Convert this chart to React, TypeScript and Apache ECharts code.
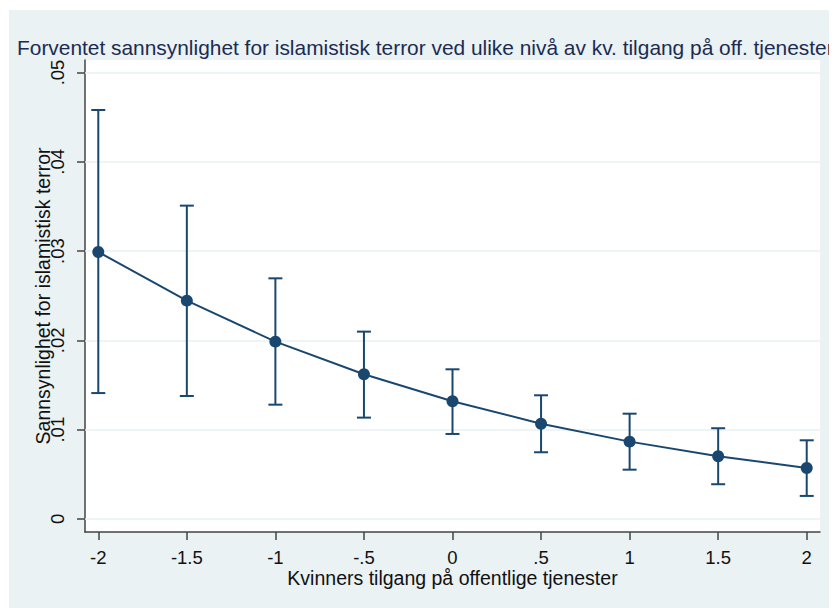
import React, { useEffect, useRef } from "react";
import * as echarts from "echarts";

const xValues = [-2, -1.5, -1, -0.5, 0, 0.5, 1, 1.5, 2];
const predicted = [0.0299, 0.02445, 0.01986, 0.0162, 0.01318, 0.01067, 0.00866, 0.00702, 0.00571];
const lowerCI = [0.0141, 0.01377, 0.0128, 0.01135, 0.00952, 0.00747, 0.00552, 0.00389, 0.00258];
const upperCI = [0.0458, 0.03509, 0.02695, 0.02098, 0.01676, 0.01385, 0.01179, 0.01016, 0.00881];
const xTicks = [-2, -1.5, -1, -0.5, 0, 0.5, 1, 1.5, 2];
const yTicks = [0, 0.01, 0.02, 0.03, 0.04, 0.05];

const titleText = "Forventet sannsynlighet for islamistisk terror ved ulike nivå av kv. tilgang på off. tjenester";
const xTitle = "Kvinners tilgang på offentlige tjenester";
const yTitle = "Sannsynlighet for islamistisk terror";

const NAVY = "#1a476f";
const FONT = "'Liberation Sans', Arial, Helvetica, sans-serif";

const stataFmt = (v: number) => {
  let s = String(Math.round(v * 1000) / 1000);
  s = s.replace(/^0\./, ".").replace(/^-0\./, "-.");
  return s;
};

export default function App() {
  const ref = useRef<HTMLDivElement>(null);
  useEffect(() => {
    if (!ref.current) return;
    const chart = echarts.init(ref.current, undefined, { renderer: "svg" });
    const pointData = xValues.map((x, i) => [x, predicted[i]]);
    const ciData = xValues.map((x, i) => [x, lowerCI[i], upperCI[i]]);
    chart.setOption({
      animation: false,
      backgroundColor: "#eaf2f3",
      title: {
        text: titleText,
        left: 3,
        top: 22,
        textStyle: { fontFamily: FONT, fontSize: 20.9, fontWeight: "normal", color: "#1c2b52" },
      },
      grid: {
        left: 76,
        top: 50,
        right: 17,
        bottom: 76,
        show: true,
        backgroundColor: "#ffffff",
        borderWidth: 0,
      },
      xAxis: {
        type: "value",
        min: -2.075,
        max: 2.075,
        name: xTitle,
        nameLocation: "middle",
        nameGap: 36,
        nameMoveOverlap: false,
        nameTextStyle: { fontFamily: FONT, fontSize: 19.5, color: "#111" },
        axisLine: { show: true, onZero: false, lineStyle: { color: "#444", width: 1.5 } },
        axisTick: { show: true, length: 8, customValues: xTicks, lineStyle: { color: "#444", width: 1.5 } },
        axisLabel: {
          customValues: xTicks,
          formatter: (v: number) => stataFmt(v),
          fontFamily: FONT,
          fontSize: 18.5,
          color: "#111",
          margin: 16,
        },
        splitLine: { show: false },
      },
      yAxis: {
        type: "value",
        min: -0.00146,
        max: 0.0514,
        name: yTitle,
        nameLocation: "middle",
        nameGap: 32,
        nameMoveOverlap: false,
        nameTextStyle: { fontFamily: FONT, fontSize: 19.5, color: "#111" },
        axisLine: { show: true, onZero: false, lineStyle: { color: "#444", width: 1.5 } },
        axisTick: { show: true, length: 8, customValues: yTicks, lineStyle: { color: "#444", width: 1.5 } },
        axisLabel: {
          customValues: yTicks,
          rotate: 90,
          formatter: (v: number) => stataFmt(v),
          fontFamily: FONT,
          fontSize: 18.5,
          color: "#111",
          margin: 18,
        },
        splitLine: { show: false },
      },
      series: [
        {
          type: "line",
          data: [],
          silent: true,
          z: 1,
          markLine: {
            silent: true,
            z: 1,
            symbol: "none",
            label: { show: false },
            lineStyle: { color: "#eaf2f3", width: 1.5, type: "solid" },
            data: yTicks.map((v) => ({ yAxis: v })),
          },
        },
        {
          type: "custom",
          data: ciData,
          z: 3,
          renderItem: (params: any, api: any) => {
            const x = api.value(0);
            const lo = api.coord([x, api.value(1)]);
            const hi = api.coord([x, api.value(2)]);
            const cap = 7;
            const style = { stroke: NAVY, lineWidth: 2 };
            return {
              type: "group",
              children: [
                { type: "line", shape: { x1: lo[0], y1: lo[1], x2: hi[0], y2: hi[1] }, style },
                { type: "line", shape: { x1: lo[0] - cap, y1: lo[1], x2: lo[0] + cap, y2: lo[1] }, style },
                { type: "line", shape: { x1: hi[0] - cap, y1: hi[1], x2: hi[0] + cap, y2: hi[1] }, style },
              ],
            };
          },
        },
        {
          type: "line",
          data: pointData,
          z: 4,
          symbol: "circle",
          symbolSize: 12,
          itemStyle: { color: NAVY },
          lineStyle: { color: NAVY, width: 2 },
        },
      ],
    });
    return () => chart.dispose();
  }, []);
  return (
    <div
      ref={ref}
      style={{ width: 828, height: 598, marginLeft: 1, marginTop: 2 }}
    />
  );
}
